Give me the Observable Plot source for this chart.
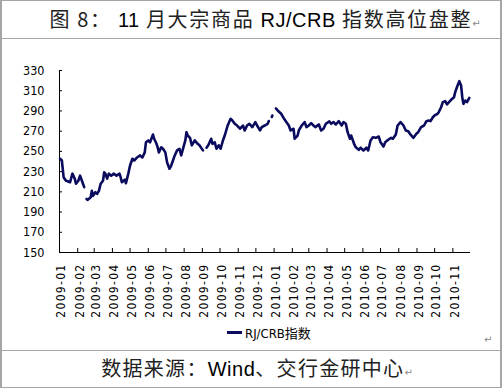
<!DOCTYPE html>
<html><head><meta charset="utf-8">
<script src="https://cdn.jsdelivr.net/npm/d3@7"></script>
<script src="https://cdn.jsdelivr.net/npm/@observablehq/plot@0.6"></script>
<style>
body{margin:0;background:#fff;}
#frame{position:relative;width:502px;height:388px;overflow:hidden;background:#fff;}
.b{position:absolute;background:#a6a6a6;}
.cjk{font-family:"Noto Sans CJK SC",sans-serif;}
#title{position:absolute;left:14px;top:6px;width:502px;text-align:center;font-size:20px;line-height:26px;color:#222;white-space:nowrap;font-family:"Noto Sans CJK SC",sans-serif;letter-spacing:1.7px;}
#title .lat,#foot .lat{font-family:"Liberation Sans",Arial,sans-serif;color:#000;letter-spacing:0.5px;}
#foot{position:absolute;left:6px;top:354px;width:502px;text-align:center;font-size:20px;line-height:28px;color:#222;white-space:nowrap;font-family:"Noto Sans CJK SC",sans-serif;letter-spacing:1.3px;}
.pm{font-family:"DejaVu Sans",sans-serif;font-size:10px;color:#888;letter-spacing:0;}
#chart{position:absolute;left:0;top:40px;}
#legend{position:absolute;left:227px;top:323px;display:flex;align-items:center;font-size:13px;font-family:"Liberation Sans Narrow","DejaVu Sans Condensed",sans-serif;color:#000;}
#legend .sw{width:15px;height:3px;background:#0a0a5e;margin-right:3px;}
#pm2{position:absolute;left:484px;top:334px;}
</style></head>
<body>
<div id="frame">
  <div class="b" style="left:0;top:0;width:2px;height:388px"></div>
  <div class="b" style="right:0;top:0;width:2px;height:388px"></div>
  <div class="b" style="left:0;top:0;width:502px;height:1px"></div>
  <div class="b" style="left:0;bottom:0;width:502px;height:1px"></div>
  <div class="b" style="left:0;top:38px;width:502px;height:1px"></div>
  <div class="b" style="left:0;top:350px;width:502px;height:1px"></div>
  <div id="title">图 8： <span class="lat">11</span> 月大宗商品 <span class="lat">RJ/CRB</span> 指数高位盘整<span class="pm">↵</span></div>
  <div id="chart"></div>
  <div id="legend"><div class="sw"></div><span>RJ/CRB<span class="cjk">指数</span></span></div>
  <div id="pm2" class="pm">↵</div>
  <div id="foot">数据来源：<span class="lat">Wind</span>、交行金研中心<span class="pm">↵</span></div>
</div>
<script>
const dates = [
"2009-01-02","2009-01-05","2009-01-08","2009-01-12","2009-01-15","2009-01-19","2009-01-23","2009-01-27","2009-01-29",
"2009-02-02","2009-02-05","2009-02-09","2009-02-12","2009-02-13","2009-02-16","2009-02-18","2009-02-23","2009-02-25","2009-02-27",
"2009-03-03","2009-03-06","2009-03-09","2009-03-12","2009-03-16","2009-03-18","2009-03-20","2009-03-23","2009-03-26","2009-03-30",
"2009-04-03","2009-04-08","2009-04-13","2009-04-15","2009-04-17","2009-04-22","2009-04-24","2009-04-28",
"2009-05-01","2009-05-05","2009-05-08","2009-05-13","2009-05-18","2009-05-22","2009-05-26","2009-05-28",
"2009-06-01","2009-06-04","2009-06-09","2009-06-11","2009-06-15","2009-06-17","2009-06-19","2009-06-23","2009-06-26","2009-06-30",
"2009-07-03","2009-07-07","2009-07-10","2009-07-13","2009-07-16","2009-07-20","2009-07-24","2009-07-27",
"2009-08-03","2009-08-05","2009-08-07","2009-08-11","2009-08-14","2009-08-19","2009-08-24","2009-08-27",
"2009-09-02","2009-09-04","2009-09-08","2009-09-11","2009-09-16","2009-09-18","2009-09-22","2009-09-25","2009-09-29",
"2009-10-02","2009-10-06","2009-10-09","2009-10-14","2009-10-19","2009-10-22","2009-10-26","2009-10-30",
"2009-11-04","2009-11-09","2009-11-12","2009-11-16","2009-11-20","2009-11-25","2009-11-30",
"2009-12-03","2009-12-08","2009-12-11","2009-12-16","2009-12-21","2009-12-23","2009-12-24","2009-12-28","2009-12-29","2009-12-31",
"2010-01-04","2010-01-07","2010-01-13","2010-01-18","2010-01-22","2010-01-26","2010-01-29",
"2010-02-03","2010-02-05","2010-02-10","2010-02-12","2010-02-17","2010-02-22","2010-02-25",
"2010-03-01","2010-03-05","2010-03-09","2010-03-12","2010-03-18","2010-03-22","2010-03-26","2010-03-30",
"2010-04-05","2010-04-08","2010-04-12","2010-04-16","2010-04-21","2010-04-26","2010-04-29",
"2010-05-03","2010-05-06","2010-05-10","2010-05-12","2010-05-17","2010-05-20","2010-05-25","2010-05-28",
"2010-06-02","2010-06-07","2010-06-10","2010-06-14","2010-06-18","2010-06-23","2010-06-28",
"2010-07-01","2010-07-06","2010-07-09","2010-07-14","2010-07-19","2010-07-22","2010-07-27","2010-07-30",
"2010-08-04","2010-08-09","2010-08-13","2010-08-17","2010-08-20","2010-08-26","2010-08-31",
"2010-09-03","2010-09-08","2010-09-13","2010-09-17","2010-09-21","2010-09-24","2010-09-28",
"2010-10-01","2010-10-06","2010-10-08","2010-10-12","2010-10-15","2010-10-19","2010-10-22","2010-10-27","2010-10-29",
"2010-11-03","2010-11-05","2010-11-09","2010-11-12","2010-11-15","2010-11-17","2010-11-19","2010-11-22","2010-11-25","2010-11-29"
];
const values = [
242.7,241,224.5,221,220.5,219.5,228,223,218,
221,226,219.5,214.6,null,203,202,204.7,211,206,
209.6,208,211,218,221,229.4,228,223,228,226,
228,226,228,224.5,219.5,222,218.5,228,
236,242.7,241,244,246,244,249,259,
260.8,259,266.7,262.5,257.5,254,249,254,252.6,249,
239,232.8,236,241,246,251,252.6,246,
260.8,269,265.7,263.4,256,260.8,257.5,256,
251,null,253.6,256,262.5,257.5,259,252.6,256,
252.6,260.8,265.7,275.6,282.2,280.6,277.3,275.6,
272.4,275.6,270.7,275.6,277.3,274,278.9,
275.6,270.7,274,275.6,277.3,280,null,284,285.5,null,
292.5,290.5,287.2,282.2,278.9,275.6,270.7,
272.4,262.5,265.7,270.7,275.6,279,274,
275.6,277.9,275.6,274,276.6,270.7,272.4,277.3,
279.6,277.3,279,276.6,279.9,275.6,279,
277.3,269,262.5,265.7,257.5,254,251.6,253.6,
250.9,253.6,250.9,260.8,264,263.4,264.7,
259,254.8,259,261.5,263.4,262.5,266.7,275.6,
279,275.6,270.7,270,267.4,263.4,267.4,
269,274,275.6,279.9,280.6,279.9,283.8,
285.5,287.2,288.8,293.7,298.7,299.7,296.4,299.7,301,
303.6,308.6,315.2,319.4,315.2,303.6,297,300.3,298.7,303
];
const yTicks = [150,170,190,210,230,250,270,290,310,330];
const monthLabels = ["2009-01","2009-02","2009-03","2009-04","2009-05","2009-06","2009-07","2009-08","2009-09","2009-10","2009-11","2009-12",
"2010-01","2010-02","2010-03","2010-04","2010-05","2010-06","2010-07","2010-08","2010-09","2010-10","2010-11"];
const xDomain = ["2009-01-01","2010-12-01"];

const data = dates.map((d,i)=>({date:new Date(d), value:values[i]}));
const monthTicks = monthLabels.map(m=>new Date(m+"-01"));
const narrow = '"Liberation Sans Narrow","DejaVu Sans Condensed",sans-serif';

const chart = Plot.plot({
  width: 502, height: 300,
  marginLeft: 59, marginRight: 32, marginTop: 30, marginBottom: 88,
  x: {type:"utc", domain: xDomain.map(d=>new Date(d)), label:null},
  y: {domain:[150,330], label:null},
  style: {fontFamily: narrow, fontSize:"13px", color:"#000", background:"transparent", overflow:"visible"},
  marks: [
    Plot.ruleY([150], {stroke:"#000"}),
    Plot.ruleX([monthTicks[0]], {stroke:"#000"}),
    Plot.axisY(yTicks, {tickSize:0, tickPadding:15, tickFormat:d=>String(d), fontSize:12.5, label:null}),
    Plot.axisY(yTicks, {tickSize:-3, text:null, label:null}),
    Plot.axisX(monthTicks, {tickSize:-4, text:null, label:null}),
    Plot.axisX(monthTicks, {tickSize:0, tickPadding:11, tickRotate:-90, dx:2, fontSize:12, tickFormat:d3.utcFormat("%Y-%m"), label:null}),
    Plot.line(data, {x:"date", y:"value", stroke:"#0a0a5e", strokeWidth:2.6})
  ]
});
document.getElementById("chart").appendChild(chart);
d3.select(chart).selectAll('g[aria-label="x-axis tick label"] text').style("letter-spacing","1.3px");
</script>
</body></html>
